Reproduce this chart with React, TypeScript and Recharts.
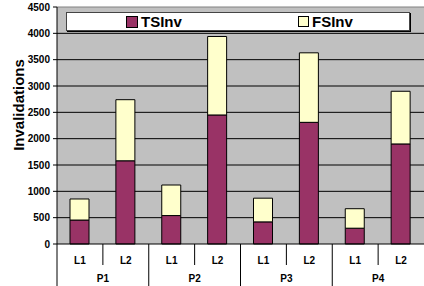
import React from "react";
import { BarChart, Bar, XAxis, YAxis, CartesianGrid, ReferenceLine } from "recharts";

const groups = ["P1", "P1", "P2", "P2", "P3", "P3", "P4", "P4"];
const lines  = ["L1", "L2", "L1", "L2", "L1", "L2", "L1", "L2"];
const tsInv  = [455, 1580, 540, 2450, 420, 2310, 300, 1900];
const fsInv  = [400, 1160, 580, 1490, 450, 1320, 370, 1000];
const yTicks = [0, 500, 1000, 1500, 2000, 2500, 3000, 3500, 4000, 4500];

const data = lines.map((l, i) => ({ key: `${groups[i]}-${l}`, line: l, group: groups[i], TSInv: tsInv[i], FSInv: fsInv[i] }));

const W = 424;
const H = 286;
const LEFT = 57;
const TOP = 7;
const BOTTOM = 42;
const BAND = (W - LEFT) / data.length;
const FONT = "Arial, 'Liberation Sans', sans-serif";
const PURPLE = "#993366";
const CREAM  = "#FFFFCC";
const GREY   = "#C0C0C0";

function CatTick(props: any) {
  const { x, payload } = props;
  const i = payload.index;
  const d = data[i];
  const y0 = H - BOTTOM;
  const left = x - BAND / 2;
  const start = i % 2 === 0;
  return (
    <g>
      <line x1={left} x2={left} y1={y0} y2={start ? H : y0 + 21} stroke="#000" strokeWidth={1} />
      <text x={x} y={y0 + 20} textAnchor="middle" fontFamily={FONT} fontWeight="bold" fontSize={10} fill="#000">{d.line}</text>
      {start && (
        <text x={x + BAND / 2} y={y0 + 38} textAnchor="middle" fontFamily={FONT} fontWeight="bold" fontSize={10} fill="#000">{d.group}</text>
      )}
    </g>
  );
}

function LegendBox() {
  const item = (color: string, label: string, left: number, sq: number) => (
    <div style={{ position: "absolute", left, top: 0, height: 17, display: "flex", alignItems: "center" }}>
      <span style={{ display: "inline-block", width: sq, height: sq, background: color, border: "1px solid #000", boxSizing: "border-box" }} />
      <span style={{ marginLeft: 3, fontFamily: FONT, fontWeight: "bold", fontSize: 15, color: "#000", lineHeight: "17px" }}>{label}</span>
    </div>
  );
  return (
    <div style={{ position: "absolute", left: 66, top: 12, width: 342, height: 17, background: "#fff", border: "1px solid #444", boxShadow: "1px 1px 0 #000" }}>
      {item(PURPLE, "TSInv", 59, 12)}
      {item(CREAM, "FSInv", 231, 11)}
    </div>
  );
}

function YLabel() {
  return (
    <text x={24} y={105} transform="rotate(-90 24 105)" textAnchor="middle" fontFamily={FONT} fontWeight="bold" fontSize={15} fill="#000">
      Invalidations
    </text>
  );
}

export default function App() {
  return (
    <div style={{ position: "absolute", left: 0, top: 0, width: W, height: H, background: "#fff" }}>
      <BarChart width={W} height={H} data={data} margin={{ top: TOP, right: 0, bottom: 0, left: 0 }} barSize={19}>
        <CartesianGrid fill={GREY} stroke="#000" vertical={false} horizontalValues={[500, 1000, 1500, 2000, 2500, 3000, 3500, 4000]} />
        <ReferenceLine y={4500} stroke="#808080" />
        <XAxis dataKey="key" height={BOTTOM} interval={0} tickLine={false} axisLine={{ stroke: "#000" }} tick={<CatTick />} />
        <YAxis
          width={LEFT}
          domain={[0, 4500]}
          ticks={yTicks}
          interval={0}
          tickSize={4}
          tickMargin={3}
          axisLine={{ stroke: "#000" }}
          tickLine={{ stroke: "#000" }}
          tick={{ fontFamily: FONT, fontWeight: "bold", fontSize: 10, fill: "#000" }}
          label={<YLabel />}
        />
        <Bar dataKey="TSInv" stackId="a" fill={PURPLE} stroke="#000" strokeWidth={1} isAnimationActive={false} />
        <Bar dataKey="FSInv" stackId="a" fill={CREAM} stroke="#000" strokeWidth={1} isAnimationActive={false} />
      </BarChart>
      <LegendBox />
    </div>
  );
}
